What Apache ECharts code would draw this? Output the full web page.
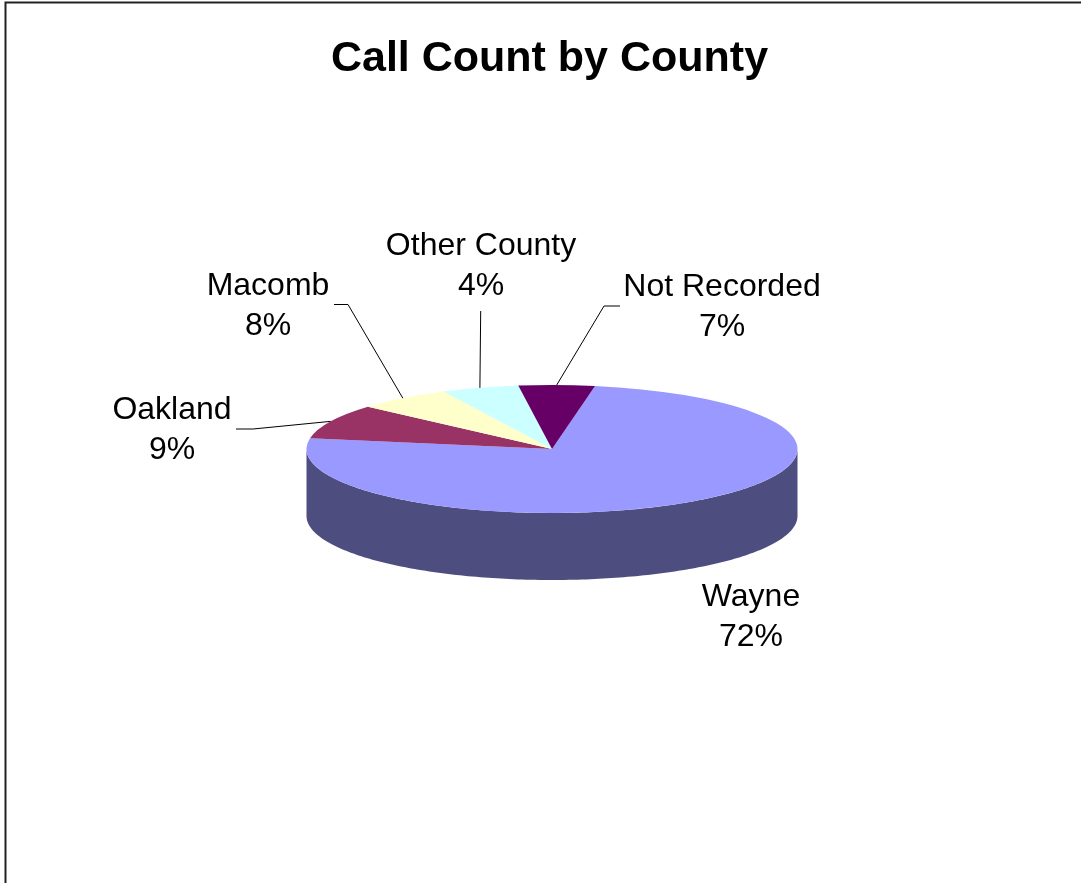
<!DOCTYPE html>
<html><head><meta charset="utf-8">
<style>html,body{margin:0;padding:0;background:#fff}#c{width:1081px;height:883px}</style>
<script src="https://cdn.jsdelivr.net/npm/echarts@6/dist/echarts.min.js"></script>
</head><body><div id="c"></div>
<script>
const categories = ['Wayne','Oakland','Macomb','Other County','Not Recorded'];
// printed percentages
const percentLabels = [72,9,8,4,7];
// share of the circle each slice visibly occupies in the picture
const sliceShares = [74.9,8.8,6.2,5.1,5.0];
const topColors = ['#9999FF','#993366','#FFFFCC','#CCFFFF','#660066'];
const sideColors = ['#4D4D80','#4D1A33','#808066','#668080','#330033'];

const FONT = '"Liberation Sans", Arial, sans-serif';
const CX = 552, CY = 449, RX = 245.5, RY = 64, DEPTH = 67, START_DEG = 10.1;
const labelCenters = [[751,617],[172,430],[268,306],[481,266],[722,307]];
const leaderStarts = [null,[[236,429],[253,429]],[[334,304.5],[348,304.5]],[[480.7,311]],[[620,306],[604,306]]];
const total = sliceShares.reduce((a,b)=>a+b,0);
const pt = (deg, dy) => {const t=deg*Math.PI/180; return [CX+RX*Math.sin(t), CY+(dy||0)-RY*Math.cos(t)];};

function renderSlice(params, api){
  const i = params.dataIndex;
  let before = 0; for(let k=0;k<i;k++) before += sliceShares[k];
  const a0 = START_DEG + before/total*360, a1 = a0 + api.value(0)/total*360;
  const children = [];
  // extruded wall: the part of the slice on the front half (90..270 deg clockwise from top)
  const f0 = Math.max(a0,90), f1 = Math.min(a1,270);
  if(f1>f0){
    const topArc=[], botArc=[];
    for(let d=f0;d<=f1+1e-6;d+=1){topArc.push(pt(d,0));botArc.push(pt(d,DEPTH));}
    children.push({type:'polygon',shape:{points:topArc.concat(botArc.reverse())},style:{fill:sideColors[i]}});
  }
  // top face: circular sector squashed to the ellipse
  children.push({type:'group',x:CX,y:CY,scaleY:RY/RX,children:[{
    type:'sector',
    shape:{cx:0,cy:0,r0:0,r:RX,startAngle:(a0-90)*Math.PI/180,endAngle:(a1-90)*Math.PI/180,clockwise:true},
    style:{fill:topColors[i]}
  }]});
  // leader line to the slice's mid angle
  if(leaderStarts[i]){
    children.push({type:'polyline',z2:5,shape:{points:leaderStarts[i].concat([pt((a0+a1)/2,0)])},
      style:{stroke:'#000',lineWidth:1,fill:null}});
  }
  // label
  children.push({type:'text',z2:6,x:labelCenters[i][0],y:labelCenters[i][1],style:{
    text:categories[i]+'\n'+percentLabels[i]+'%',
    font:'32px '+FONT,lineHeight:40,fill:'#000',align:'center',verticalAlign:'middle'}});
  return {type:'group',children};
}

const chart = echarts.init(document.getElementById('c'),null,{renderer:'canvas'});
chart.setOption({
  animation:false,
  backgroundColor:'#fff',
  title:{text:'Call Count by County',left:544.5,top:33,textAlign:'center',
    textStyle:{fontFamily:FONT,fontWeight:'bold',fontSize:43,color:'#000'}},
  graphic:[
    {type:'polyline',shape:{points:[[5.5,883],[5.5,2.5],[1081,2.5]]},style:{stroke:'#222',lineWidth:2,fill:null}}
  ],
  series:[{type:'custom',coordinateSystem:'none',silent:true,
    data:sliceShares.map(v=>[v]),renderItem:renderSlice}]
});
</script></body></html>
